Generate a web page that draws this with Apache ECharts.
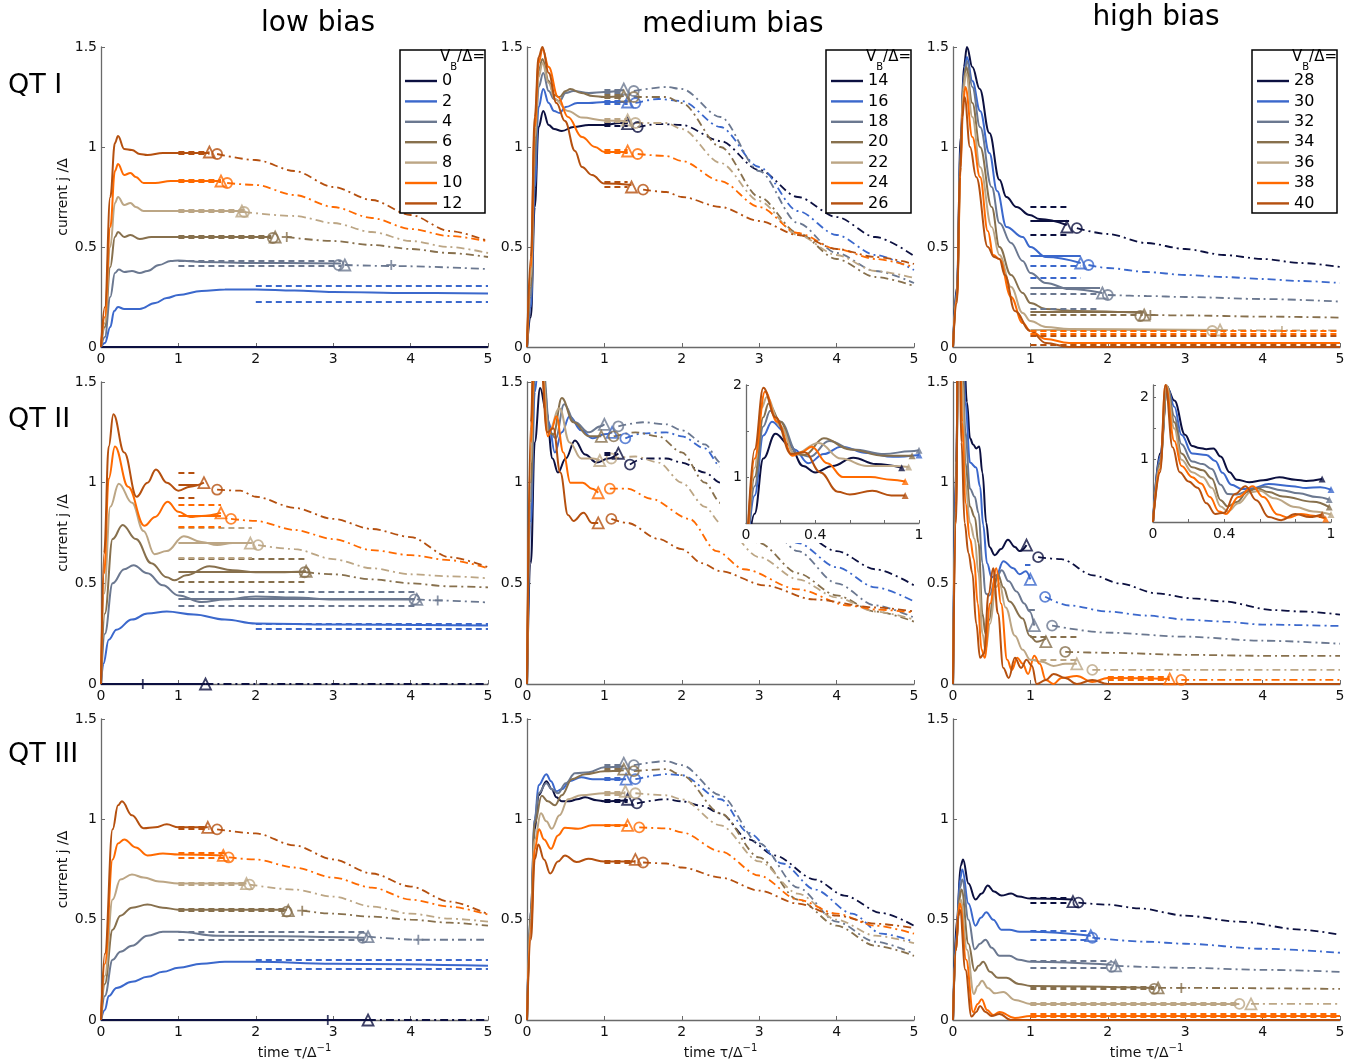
<!DOCTYPE html>
<html><head><meta charset="utf-8">
<script src="https://cdn.jsdelivr.net/npm/echarts@6.0.0/dist/echarts.min.js"></script>
<style>html,body{margin:0;padding:0;background:#fff}#c{width:1364px;height:1063px}</style>
</head><body><div id="c"></div>
<script>
// ---------- categories / names ----------
const VB_LOW=['0','2','4','6','8','10','12'];
const VB_MED=['14','16','18','20','22','24','26'];
const VB_HIGH=['28','30','32','34','36','38','40'];
const ROW_LABELS=['QT I','QT II','QT III'];
const COL_LABELS=['low bias','medium bias','high bias'];
const X_TICKS=[0,1,2,3,4,5];
const Y_TICKS=[0,0.5,1,1.5];
const NONE7=[null,null,null,null,null,null,null];

// ---------- QT I, low bias ----------
const curves_QT1_low=[
 [[0,0],[5,0]],
 [[0,0],[0.05,0.02],[0.12,0.1],[0.17,0.18],[0.22,0.2],[0.3,0.19],[0.5,0.19],[0.7,0.22],[0.85,0.245],[1,0.26],[1.3,0.28],[1.6,0.287],[2,0.288],[2.5,0.283],[3,0.275],[4,0.27],[5,0.267]],
 [[0,0],[0.05,0.05],[0.12,0.25],[0.18,0.37],[0.23,0.387],[0.3,0.375],[0.4,0.38],[0.5,0.37],[0.6,0.38],[0.75,0.41],[0.9,0.43],[1,0.432],[1.3,0.425],[2,0.42],[3.1,0.417]],
 [[0,0],[0.05,0.1],[0.12,0.4],[0.18,0.55],[0.22,0.575],[0.3,0.55],[0.38,0.56],[0.5,0.54],[0.65,0.55],[1,0.55],[2.2,0.55]],
 [[0,0],[0.05,0.12],[0.12,0.5],[0.18,0.72],[0.22,0.75],[0.3,0.71],[0.38,0.72],[0.45,0.7],[0.55,0.68],[0.8,0.68],[1.82,0.68]],
 [[0,0],[0.05,0.15],[0.12,0.6],[0.18,0.88],[0.22,0.915],[0.3,0.86],[0.38,0.87],[0.45,0.85],[0.55,0.82],[0.7,0.82],[0.9,0.83],[1.55,0.83]],
 [[0,0],[0.05,0.2],[0.12,0.75],[0.18,1.02],[0.22,1.055],[0.3,0.99],[0.4,0.985],[0.5,0.965],[0.6,0.96],[0.8,0.97],[1.4,0.97]]
];
const ext_QT1_low=[
 null,null,
 [[3.15,0.41],[3.75,0.405],[5,0.39]],
 [[2.4,0.55],[3,0.53],[3.5,0.51],[4,0.49],[4.5,0.47],[5,0.45]],
 [[1.85,0.675],[2.5,0.655],[3,0.62],[3.5,0.575],[4,0.53],[4.5,0.5],[5,0.47]],
 [[1.63,0.82],[2,0.81],[2.5,0.76],[3,0.7],[3.5,0.645],[4,0.59],[4.5,0.555],[5,0.528]],
 [[1.5,0.965],[2,0.935],[2.5,0.88],[3,0.8],[3.5,0.735],[4,0.66],[4.5,0.58],[5,0.53]]
];
const bands_QT1_low=[null,[2,5,0.305,0.228,null],[1,3.1,0.432,0.405,null],[1,2.2,0.556,0.544,null],[1,1.85,0.686,0.674,null],[1,1.55,0.836,0.824,null],[1,1.4,0.976,0.966,null]];
const tri_QT1_low=[null,null,[3.15,0.41],[2.25,0.55],[1.82,0.68],[1.55,0.83],[1.4,0.975]];
const circ_QT1_low=[null,null,[3.07,0.41],[2.22,0.545],[1.85,0.675],[1.63,0.82],[1.5,0.965]];
const plus_QT1_low=[null,null,[3.75,0.41],[2.4,0.55],null,null,null];

// ---------- QT I, medium bias ----------
const curves_QT1_med=[
 [[0,0],[0.05,0.15],[0.1,0.7],[0.15,1.1],[0.21,1.18],[0.28,1.11],[0.35,1.09],[0.45,1.08],[0.6,1.1],[0.8,1.11],[1,1.11],[1.2,1.12],[1.3,1.117]],
 [[0,0],[0.05,0.2],[0.1,0.8],[0.15,1.2],[0.21,1.29],[0.28,1.22],[0.35,1.18],[0.42,1.17],[0.5,1.2],[0.65,1.22],[0.8,1.22],[1,1.225],[1.3,1.225]],
 [[0,0],[0.05,0.25],[0.1,0.9],[0.15,1.3],[0.21,1.37],[0.28,1.28],[0.35,1.24],[0.42,1.23],[0.5,1.27],[0.6,1.28],[0.8,1.27],[1,1.275],[1.25,1.285]],
 [[0,0],[0.05,0.3],[0.1,1.0],[0.15,1.38],[0.2,1.44],[0.28,1.33],[0.35,1.26],[0.42,1.25],[0.5,1.28],[0.56,1.29],[0.7,1.27],[0.85,1.255],[1,1.25],[1.25,1.255]],
 [[0,0],[0.05,0.35],[0.1,1.05],[0.15,1.35],[0.2,1.42],[0.28,1.32],[0.36,1.24],[0.53,1.18],[0.71,1.147],[1,1.133],[1.3,1.13]],
 [[0,0],[0.05,0.4],[0.1,1.1],[0.15,1.42],[0.2,1.49],[0.28,1.4],[0.4,1.25],[0.53,1.15],[0.71,1.05],[0.88,1.0],[1,0.975],[1.3,0.975]],
 [[0,0],[0.05,0.45],[0.1,1.15],[0.15,1.45],[0.2,1.5],[0.28,1.37],[0.38,1.22],[0.49,1.13],[0.62,0.98],[0.71,0.9],[0.84,0.86],[1,0.817],[1.35,0.81]]
];
const ext_QT1_med=[
 [[1.43,1.1],[1.7,1.115],[2,1.11],[2.5,1.03],[3,0.885],[3.5,0.75],[4,0.65],[4.5,0.55],[5,0.455]],
 [[1.4,1.22],[1.7,1.24],[2,1.23],[2.5,1.1],[3,0.9],[3.5,0.68],[4,0.56],[4.5,0.46],[5,0.385]],
 [[1.38,1.28],[1.8,1.3],[2,1.29],[2.5,1.15],[3,0.88],[3.5,0.62],[4,0.47],[4.5,0.38],[5,0.32]],
 [[1.38,1.25],[1.8,1.25],[2,1.22],[2.5,1.0],[3,0.75],[3.5,0.57],[4,0.44],[4.5,0.35],[5,0.305]],
 [[1.4,1.12],[1.8,1.12],[2,1.09],[2.5,0.92],[3,0.73],[3.5,0.56],[4,0.46],[4.5,0.38],[5,0.345]],
 [[1.43,0.965],[1.8,0.955],[2,0.93],[2.5,0.83],[3,0.7],[3.5,0.57],[4,0.49],[4.5,0.44],[5,0.4]],
 [[1.5,0.787],[1.8,0.775],[2,0.75],[2.5,0.7],[3,0.63],[3.5,0.56],[4,0.49],[4.5,0.45],[5,0.415]]
];
const bands_QT1_med=[[1,1.3,1.12,1.105,null],[1,1.3,1.23,1.215,null],[1,1.25,1.285,1.27,null],[1,1.25,1.26,1.245,null],[1,1.3,1.14,1.125,null],[1,1.3,0.985,0.97,null],[1,1.3,0.825,0.8,null]];
const tri_QT1_med=[[1.3,1.117],[1.3,1.225],[1.25,1.29],[1.25,1.255],[1.3,1.135],[1.3,0.98],[1.35,0.8]];
const circ_QT1_med=[[1.43,1.1],[1.4,1.22],[1.38,1.28],[1.38,1.25],[1.4,1.12],[1.43,0.965],[1.5,0.787]];

// ---------- QT I, high bias ----------
const curves_QT1_high=[
 [[0,0],[0.05,0.3],[0.1,1.05],[0.14,1.4],[0.18,1.5],[0.25,1.4],[0.345,1.29],[0.47,1.07],[0.6,0.836],[0.69,0.75],[0.82,0.7],[0.99,0.66],[1.12,0.64],[1.47,0.61]],
 [[0,0],[0.05,0.28],[0.1,1.0],[0.14,1.36],[0.18,1.45],[0.25,1.33],[0.35,1.18],[0.47,0.97],[0.57,0.78],[0.69,0.6],[0.9,0.55],[1,0.5],[1.2,0.45],[1.65,0.42]],
 [[0,0],[0.05,0.27],[0.1,0.98],[0.14,1.34],[0.18,1.43],[0.25,1.3],[0.35,1.1],[0.5,0.8],[0.6,0.62],[0.75,0.52],[0.9,0.43],[1,0.37],[1.2,0.32],[1.5,0.29],[1.93,0.27]],
 [[0,0],[0.05,0.26],[0.1,0.95],[0.13,1.3],[0.17,1.4],[0.25,1.22],[0.35,1.0],[0.5,0.7],[0.6,0.5],[0.75,0.36],[0.9,0.27],[1,0.22],[1.2,0.19],[1.6,0.18],[2.45,0.17]],
 [[0,0],[0.05,0.25],[0.1,0.92],[0.13,1.28],[0.17,1.37],[0.25,1.15],[0.35,0.9],[0.5,0.6],[0.6,0.46],[0.75,0.3],[0.9,0.17],[1,0.13],[1.2,0.1],[1.5,0.09],[3.45,0.085]],
 [[0,0],[0.05,0.24],[0.1,0.9],[0.13,1.22],[0.16,1.3],[0.25,1.05],[0.35,0.85],[0.45,0.58],[0.52,0.46],[0.6,0.44],[0.75,0.25],[0.9,0.12],[1,0.08],[1.2,0.04],[1.5,0.02],[2,0.02],[5,0.02]],
 [[0,0],[0.05,0.22],[0.09,0.85],[0.12,1.15],[0.15,1.25],[0.22,1.0],[0.3,0.85],[0.45,0.5],[0.53,0.45],[0.6,0.44],[0.67,0.36],[0.8,0.18],[1,0.08],[1.2,0.02],[1.5,0.0],[5,0.0]]
];
const ext_QT1_high=[
 [[1.6,0.594],[2,0.565],[2.5,0.52],[3,0.49],[3.5,0.46],[4,0.44],[4.5,0.42],[5,0.4]],
 [[1.75,0.41],[2,0.395],[2.5,0.375],[3,0.36],[3.5,0.35],[4,0.34],[4.5,0.33],[5,0.32]],
 [[2,0.26],[2.5,0.255],[3,0.25],[4,0.24],[5,0.227]],
 [[2.55,0.16],[3,0.158],[4,0.152],[5,0.147]],
 [[3.45,0.085],[4.25,0.083],[5,0.083]],
 null,null
];
const bands_QT1_high=[[1,1.5,0.70,0.563,0.63],[1,1.65,0.406,0.348,0.455],[1,1.9,0.264,0.192,0.298],[1,2.45,0.159,0.159,0.176],[1,3.4,0.08,0.013,0.087],[1,5,0.083,0.065,null],[1,5,0.058,0.013,null]];
const tri_QT1_high=[[1.47,0.6],[1.65,0.42],[1.93,0.27],[2.47,0.16],[3.45,0.085],null,null];
const circ_QT1_high=[[1.6,0.594],[1.75,0.41],[2,0.26],[2.42,0.155],[3.35,0.08],null,null];
const plus_QT1_high=[null,null,null,[2.55,0.16],[4.25,0.08],null,null];

// ---------- QT II, low bias ----------
const curves_QT2_low=[
 [[0,0],[1.35,0]],
 [[0,0],[0.03,0.1],[0.1,0.22],[0.2,0.27],[0.4,0.32],[0.6,0.35],[0.85,0.36],[1.2,0.345],[1.6,0.32],[2,0.3],[3,0.295],[5,0.29]],
 [[0,0],[0.05,0.25],[0.15,0.5],[0.3,0.57],[0.42,0.59],[0.6,0.55],[0.8,0.49],[1,0.44],[1.3,0.407],[1.6,0.42],[2,0.435],[2.5,0.43],[3,0.42],[4.05,0.42]],
 [[0,0],[0.05,0.35],[0.15,0.72],[0.28,0.79],[0.45,0.72],[0.65,0.6],[0.85,0.53],[0.95,0.515],[1.1,0.54],[1.4,0.585],[1.7,0.565],[2,0.555],[2.3,0.555],[2.65,0.56]],
 [[0,0],[0.04,0.45],[0.12,0.88],[0.23,0.995],[0.4,0.9],[0.55,0.76],[0.69,0.645],[0.85,0.66],[1.07,0.734],[1.3,0.705],[1.5,0.69],[1.7,0.7],[1.93,0.7]],
 [[0,0],[0.04,0.55],[0.1,1.02],[0.18,1.18],[0.35,0.98],[0.56,0.786],[0.7,0.83],[0.86,0.905],[1,0.855],[1.15,0.83],[1.3,0.835],[1.55,0.85]],
 [[0,0],[0.04,0.65],[0.1,1.18],[0.16,1.34],[0.3,1.15],[0.46,0.93],[0.6,1.0],[0.71,1.066],[0.85,1.0],[1,0.96],[1.15,0.98],[1.33,1.0]]
];
const ext_QT2_low=[
 [[1.35,0],[5,0]],
 null,
 [[4.08,0.42],[4.35,0.415],[5,0.405]],
 [[2.65,0.555],[3,0.545],[3.5,0.52],[4,0.5],[4.5,0.485],[5,0.48]],
 [[2.03,0.69],[2.5,0.67],[3,0.62],[3.5,0.575],[4,0.545],[4.5,0.535],[5,0.525]],
 [[1.68,0.82],[2,0.81],[2.5,0.765],[3,0.72],[3.5,0.665],[4,0.64],[4.5,0.615],[5,0.575]],
 [[1.5,0.965],[1.8,0.96],[2,0.93],[2.5,0.875],[3,0.82],[3.5,0.77],[4,0.73],[4.5,0.63],[5,0.58]]
];
const bands_QT2_low=[null,[2,5,0.30,0.275,null],[1,4.05,0.46,0.39,0.424],[1,2.65,0.62,0.507,0.56],[1,1.95,0.776,0.625,0.70],[1,1.55,0.89,0.78,0.835],[1,1.25,1.047,0.925,0.99]];
const tri_QT2_low=[[1.35,0],null,[4.08,0.42],[2.65,0.56],[1.93,0.7],[1.55,0.85],[1.33,1.0]];
const circ_QT2_low=[null,null,[4.05,0.42],[2.63,0.555],[2.03,0.69],[1.68,0.82],[1.5,0.965]];
const plus_QT2_low=[[0.54,0],null,[4.35,0.415],null,null,null,null];

// ---------- QT II, medium bias ----------
const curves_QT2_med=[
 [[0,0],[0.05,0.6],[0.1,1.2],[0.17,1.47],[0.25,1.35],[0.33,1.12],[0.4,1.05],[0.5,1.12],[0.62,1.21],[0.75,1.14],[0.9,1.1],[1.05,1.12],[1.18,1.145]],
 [[0,0],[0.05,0.8],[0.1,1.45],[0.15,1.6],[0.22,1.5],[0.28,1.3],[0.36,1.15],[0.45,1.25],[0.55,1.33],[0.7,1.26],[0.85,1.22],[1,1.24],[1.1,1.25]],
 [[0,0],[0.05,0.9],[0.1,1.55],[0.14,1.72],[0.2,1.6],[0.3,1.25],[0.37,1.22],[0.48,1.39],[0.62,1.3],[0.8,1.25],[0.95,1.28],[1.0,1.29]],
 [[0,0],[0.05,1.0],[0.1,1.65],[0.13,1.8],[0.2,1.6],[0.28,1.25],[0.34,1.24],[0.45,1.42],[0.6,1.3],[0.8,1.23],[0.96,1.23]],
 [[0,0],[0.05,1.1],[0.09,1.75],[0.12,1.87],[0.2,1.55],[0.28,1.25],[0.42,1.37],[0.55,1.2],[0.7,1.12],[0.85,1.12],[0.94,1.11]],
 [[0,0],[0.05,1.2],[0.11,1.93],[0.18,1.6],[0.27,1.23],[0.32,1.27],[0.38,1.33],[0.47,1.15],[0.56,1.0],[0.72,1.0],[0.84,0.97],[0.92,0.95]],
 [[0,0],[0.05,1.3],[0.1,1.97],[0.17,1.65],[0.26,1.25],[0.34,1.27],[0.43,1.05],[0.53,0.84],[0.6,0.81],[0.73,0.85],[0.84,0.8],[0.92,0.8]]
];
const ext_QT2_med=[
 [[1.33,1.09],[1.5,1.12],[1.8,1.12],[2,1.1],[2.3,1.05],[2.5,1.0],[3,0.87],[3.5,0.76],[4,0.66],[4.5,0.57],[5,0.49]],
 [[1.27,1.22],[1.5,1.245],[1.8,1.25],[2,1.23],[2.3,1.17],[2.5,1.08],[3,0.88],[3.5,0.7],[4,0.58],[4.5,0.48],[5,0.41]],
 [[1.18,1.28],[1.5,1.3],[1.8,1.29],[2,1.26],[2.3,1.19],[2.5,1.1],[3,0.85],[3.5,0.66],[4,0.5],[4.5,0.39],[5,0.33]],
 [[1.12,1.23],[1.4,1.25],[1.7,1.23],[2,1.15],[2.3,1.0],[2.5,0.9],[3,0.7],[3.5,0.55],[4,0.44],[4.5,0.36],[5,0.31]],
 [[1.09,1.12],[1.4,1.13],[1.7,1.1],[2,1.0],[2.3,0.88],[2.5,0.8],[3,0.63],[3.5,0.52],[4,0.43],[4.5,0.36],[5,0.32]],
 [[1.07,0.97],[1.3,0.97],[1.6,0.92],[2.1,0.82],[2.45,0.66],[2.8,0.57],[3.5,0.47],[4.15,0.39],[4.5,0.37],[5,0.355]],
 [[1.09,0.82],[1.3,0.8],[1.7,0.72],[2,0.67],[2.26,0.6],[2.5,0.56],[3.07,0.49],[3.7,0.42],[4.5,0.38],[5,0.36]]
];
const bands_QT2_med=[[1.0,1.15,1.15,1.14,null],null,null,null,null,null,null];
const tri_QT2_med=[[1.18,1.146],[1.1,1.25],[1.0,1.29],[0.96,1.23],[0.94,1.11],[0.92,0.95],[0.92,0.8]];
const circ_QT2_med=[[1.33,1.09],[1.27,1.22],[1.18,1.28],[1.12,1.23],[1.09,1.12],[1.07,0.97],[1.09,0.82]];

// ---------- QT II, high bias ----------
const curves_QT2_high=[
 [[0,0],[0.04,1.1],[0.08,2.15],[0.12,1.95],[0.18,1.4],[0.22,1.22],[0.26,1.19],[0.3,1.17],[0.34,1.18],[0.38,1.05],[0.43,0.8],[0.47,0.68],[0.54,0.64],[0.62,0.67],[0.71,0.717],[0.8,0.68],[0.86,0.66],[0.95,0.69]],
 [[0,0],[0.04,1.05],[0.08,2.17],[0.12,1.85],[0.16,1.4],[0.22,1.1],[0.3,1.075],[0.35,0.98],[0.39,0.79],[0.44,0.6],[0.5,0.53],[0.56,0.54],[0.65,0.61],[0.78,0.575],[0.86,0.545],[0.94,0.56],[1.0,0.52]],
 [[0,0],[0.04,1.0],[0.08,2.18],[0.12,1.7],[0.16,1.25],[0.22,0.97],[0.28,0.93],[0.33,0.85],[0.38,0.6],[0.42,0.45],[0.47,0.44],[0.55,0.52],[0.63,0.565],[0.72,0.51],[0.82,0.46],[0.92,0.4],[0.99,0.36],[1.05,0.29]],
 [[0,0],[0.04,0.95],[0.08,2.18],[0.12,1.6],[0.16,1.1],[0.22,0.88],[0.28,0.83],[0.33,0.7],[0.38,0.35],[0.42,0.25],[0.47,0.32],[0.53,0.48],[0.58,0.545],[0.65,0.48],[0.73,0.41],[0.9,0.325],[0.99,0.24],[1.08,0.21],[1.2,0.225]],
 [[0,0],[0.04,0.9],[0.075,2.2],[0.12,1.5],[0.16,1.0],[0.22,0.8],[0.28,0.72],[0.33,0.55],[0.38,0.25],[0.42,0.17],[0.48,0.3],[0.55,0.48],[0.6,0.5],[0.68,0.38],[0.8,0.24],[0.9,0.17],[1,0.12],[1.15,0.11],[1.3,0.09],[1.45,0.1],[1.6,0.1]],
 [[0,0],[0.04,0.85],[0.07,2.2],[0.12,1.3],[0.16,0.9],[0.22,0.72],[0.27,0.62],[0.32,0.4],[0.37,0.17],[0.41,0.13],[0.48,0.4],[0.56,0.575],[0.62,0.4],[0.7,0.12],[0.76,0.07],[0.83,0.13],[0.9,0.1],[0.97,0.05],[1.05,0.14],[1.12,0.1],[1.2,0.02],[1.3,0.0],[1.4,0.03],[1.6,0.04],[1.8,0.01],[2,0.03],[2.8,0.025]],
 [[0,0],[0.04,0.8],[0.07,2.2],[0.11,1.2],[0.15,0.8],[0.2,0.65],[0.25,0.55],[0.3,0.3],[0.35,0.13],[0.4,0.15],[0.46,0.45],[0.52,0.575],[0.58,0.35],[0.65,0.08],[0.72,0.03],[0.8,0.13],[0.88,0.08],[0.95,0.12],[1.02,0.09],[1.08,0.0],[1.2,0.02],[1.3,0.05],[1.45,0.03],[1.6,0.0],[1.8,0.02],[2,0.0],[5,0.0]]
];
const ext_QT2_high=[
 [[1.1,0.63],[1.4,0.62],[1.81,0.54],[2.15,0.5],[2.63,0.45],[3.1,0.425],[3.49,0.41],[4.14,0.367],[4.5,0.36],[5,0.345]],
 [[1.19,0.433],[1.5,0.39],[2,0.36],[2.5,0.34],[3,0.32],[3.5,0.31],[4,0.295],[5,0.288]],
 [[1.28,0.29],[2,0.255],[3,0.235],[4,0.215],[5,0.2]],
 [[1.45,0.16],[2,0.155],[3,0.145],[4,0.14],[5,0.14]],
 [[1.8,0.07],[3,0.07],[5,0.07]],
 [[2.95,0.02],[5,0.02]],
 null
];
const bands_QT2_high=[null,[0.93,1.0,0.59,0.59,null],[0.98,1.08,0.367,0.367,null],[1,1.6,0.235,0.235,null],[1,1.6,0.12,0.12,null],[2,2.8,0.035,0.02,null],null];
const tri_QT2_high=[[0.95,0.69],[1.0,0.52],[1.05,0.29],[1.2,0.21],[1.6,0.1],[2.8,0.025],null];
const circ_QT2_high=[[1.1,0.63],[1.19,0.433],[1.28,0.29],[1.45,0.16],[1.8,0.07],[2.95,0.02],null];

// ---------- QT III, low bias ----------
const curves_QT3_low=[
 [[0,0],[3.45,0]],
 [[0,0],[0.05,0.05],[0.1,0.12],[0.2,0.16],[0.4,0.19],[0.6,0.215],[0.8,0.24],[1,0.26],[1.3,0.28],[1.6,0.29],[2,0.29],[3,0.28],[5,0.27]],
 [[0,0],[0.05,0.12],[0.15,0.3],[0.25,0.34],[0.4,0.37],[0.6,0.42],[0.8,0.44],[1,0.44],[1.5,0.42],[3.4,0.41]],
 [[0,0],[0.05,0.18],[0.15,0.45],[0.25,0.52],[0.4,0.56],[0.6,0.575],[0.8,0.56],[1,0.55],[2.4,0.55]],
 [[0,0],[0.05,0.22],[0.15,0.6],[0.25,0.7],[0.4,0.725],[0.55,0.71],[0.75,0.69],[1,0.68],[1.88,0.68]],
 [[0,0],[0.05,0.28],[0.15,0.8],[0.22,0.88],[0.3,0.9],[0.45,0.86],[0.6,0.82],[0.8,0.83],[1,0.825],[1.58,0.82]],
 [[0,0],[0.05,0.33],[0.15,0.95],[0.22,1.07],[0.27,1.09],[0.4,1.02],[0.55,0.955],[0.7,0.96],[0.85,0.975],[1,0.96],[1.38,0.96]]
];
const ext_QT3_low=[
 [[3.45,0],[5,0]],
 null,
 [[3.45,0.415],[4.1,0.4],[5,0.4]],
 [[2.6,0.545],[3,0.53],[3.5,0.515],[4,0.5],[4.5,0.485],[5,0.47]],
 [[1.92,0.675],[2.5,0.65],[3,0.615],[3.5,0.565],[4,0.53],[4.5,0.505],[5,0.49]],
 [[1.65,0.81],[2,0.8],[2.5,0.76],[3,0.71],[3.5,0.66],[4,0.6],[4.5,0.565],[5,0.525]],
 [[1.5,0.95],[2,0.93],[2.5,0.87],[3,0.8],[3.5,0.73],[4,0.665],[4.5,0.59],[5,0.527]]
];
const bands_QT3_low=[null,[2,5,0.30,0.255,null],[1,3.4,0.44,0.40,null],[1,2.4,0.556,0.544,null],[1,1.9,0.686,0.672,null],[1,1.6,0.835,0.81,null],[1,1.4,0.963,0.955,null]];
const tri_QT3_low=[[3.45,0],null,[3.45,0.415],[2.42,0.545],[1.88,0.68],[1.58,0.82],[1.38,0.96]];
const circ_QT3_low=[null,null,[3.38,0.41],[2.4,0.54],[1.92,0.675],[1.65,0.81],[1.5,0.95]];
const plus_QT3_low=[[2.93,0],null,[4.1,0.4],[2.6,0.545],null,null,null];

// ---------- QT III, medium bias ----------
const curves_QT3_med=[
 [[0,0],[0.05,0.5],[0.1,0.95],[0.15,1.12],[0.25,1.19],[0.32,1.15],[0.38,1.11],[0.45,1.09],[0.55,1.09],[0.65,1.1],[0.75,1.11],[0.9,1.095],[1,1.09],[1.3,1.095]],
 [[0,0],[0.05,0.55],[0.1,1.0],[0.15,1.17],[0.25,1.225],[0.31,1.19],[0.38,1.14],[0.45,1.15],[0.55,1.19],[0.7,1.21],[0.85,1.2],[1,1.2],[1.28,1.2]],
 [[0,0],[0.05,0.55],[0.1,1.0],[0.15,1.13],[0.25,1.18],[0.32,1.15],[0.4,1.13],[0.5,1.18],[0.62,1.23],[0.8,1.235],[1,1.26],[1.25,1.265]],
 [[0,0],[0.05,0.55],[0.1,0.98],[0.19,1.117],[0.27,1.09],[0.36,1.07],[0.45,1.12],[0.58,1.2],[0.75,1.225],[1,1.24],[1.25,1.245]],
 [[0,0],[0.05,0.5],[0.1,0.9],[0.18,1.03],[0.25,0.99],[0.32,0.953],[0.42,1.02],[0.53,1.1],[0.7,1.12],[1,1.13],[1.27,1.13]],
 [[0,0],[0.05,0.45],[0.1,0.85],[0.155,0.95],[0.22,0.9],[0.31,0.853],[0.4,0.92],[0.49,0.958],[0.66,0.953],[0.84,0.97],[1,0.97],[1.3,0.97]],
 [[0,0],[0.05,0.4],[0.1,0.8],[0.146,0.875],[0.22,0.8],[0.3,0.73],[0.4,0.79],[0.49,0.82],[0.64,0.787],[0.79,0.803],[1,0.79],[1.4,0.79]]
];
const ext_QT3_med=[
 [[1.42,1.08],[1.8,1.1],[2,1.09],[2.26,1.067],[2.5,1.03],[2.86,0.9],[3.2,0.82],[3.72,0.7],[4.1,0.62],[4.58,0.533],[5,0.47]],
 [[1.4,1.2],[1.8,1.225],[2,1.22],[2.5,1.1],[2.86,0.933],[3.3,0.78],[3.72,0.65],[4.2,0.53],[4.58,0.43],[5,0.39]],
 [[1.38,1.27],[1.8,1.29],[2,1.27],[2.5,1.12],[3,0.88],[3.5,0.66],[4,0.49],[4.5,0.39],[5,0.33]],
 [[1.38,1.24],[1.8,1.25],[2,1.22],[2.5,1.03],[3,0.81],[3.5,0.6],[4,0.47],[4.5,0.37],[5,0.32]],
 [[1.4,1.13],[1.8,1.12],[2,1.1],[2.5,0.97],[3,0.79],[3.5,0.63],[4,0.5],[4.5,0.42],[5,0.383]],
 [[1.45,0.96],[1.8,0.955],[2,0.935],[2.5,0.84],[3,0.72],[3.5,0.6],[4,0.53],[4.5,0.47],[5,0.43]],
 [[1.5,0.785],[1.8,0.78],[2,0.76],[2.5,0.71],[3,0.645],[3.5,0.58],[4,0.52],[4.5,0.48],[5,0.458]]
];
const bands_QT3_med=[[1,1.3,1.1,1.09,null],[1,1.25,1.205,1.195,null],[1,1.25,1.27,1.26,null],[1,1.25,1.25,1.24,null],[1,1.27,1.135,1.125,null],[1,1.3,0.975,0.968,null],[1,1.4,0.795,0.785,null]];
const tri_QT3_med=[[1.3,1.1],[1.28,1.2],[1.25,1.28],[1.25,1.25],[1.27,1.14],[1.3,0.97],[1.4,0.8]];
const circ_QT3_med=[[1.42,1.08],[1.4,1.2],[1.38,1.27],[1.38,1.24],[1.4,1.13],[1.45,0.96],[1.5,0.785]];

// ---------- QT III, high bias ----------
const curves_QT3_high=[
 [[0,0],[0.05,0.5],[0.1,0.77],[0.13,0.8],[0.2,0.68],[0.29,0.6],[0.37,0.63],[0.45,0.67],[0.53,0.64],[0.625,0.62],[0.75,0.63],[0.85,0.615],[1,0.605],[1.55,0.6]],
 [[0,0],[0.05,0.45],[0.09,0.7],[0.12,0.75],[0.2,0.58],[0.29,0.47],[0.36,0.51],[0.43,0.537],[0.52,0.5],[0.625,0.45],[0.73,0.45],[0.86,0.44],[1,0.44],[1.78,0.42]],
 [[0,0],[0.05,0.42],[0.09,0.66],[0.12,0.7],[0.2,0.5],[0.28,0.352],[0.35,0.38],[0.42,0.4],[0.5,0.36],[0.6,0.32],[0.73,0.32],[0.85,0.3],[1,0.29],[2.05,0.275]],
 [[0,0],[0.05,0.4],[0.08,0.6],[0.11,0.65],[0.2,0.38],[0.28,0.244],[0.33,0.27],[0.39,0.29],[0.48,0.24],[0.58,0.21],[0.69,0.21],[0.85,0.18],[1,0.17],[2.6,0.16]],
 [[0,0],[0.04,0.35],[0.07,0.55],[0.1,0.6],[0.18,0.35],[0.27,0.13],[0.32,0.17],[0.375,0.196],[0.45,0.16],[0.54,0.133],[0.65,0.14],[0.8,0.1],[1,0.08],[3.7,0.08]],
 [[0,0],[0.04,0.35],[0.07,0.54],[0.09,0.58],[0.17,0.3],[0.26,0.04],[0.32,0.08],[0.37,0.103],[0.44,0.05],[0.52,0.025],[0.6,0.04],[0.8,0.01],[1,0.02],[5,0.02]],
 [[0,0],[0.04,0.35],[0.07,0.52],[0.09,0.55],[0.16,0.25],[0.24,0.017],[0.3,0.04],[0.35,0.07],[0.42,0.04],[0.5,0.02],[0.6,0.03],[0.75,0.0],[1,0.0],[5,0.0]]
];
const ext_QT3_high=[
 [[1.62,0.585],[2,0.575],[2.41,0.556],[3,0.52],[3.7,0.49],[4.5,0.45],[5,0.424]],
 [[1.8,0.41],[2.5,0.39],[3,0.38],[4,0.355],[5,0.335]],
 [[2.1,0.27],[3,0.26],[4,0.25],[5,0.24]],
 [[2.65,0.16],[2.95,0.16],[5,0.155]],
 [[3.85,0.08],[5,0.08]],
 null,null
];
const bands_QT3_high=[[1,1.5,0.61,0.585,null],[1,1.75,0.445,0.40,null],[1,2.05,0.295,0.26,null],[1,2.6,0.165,0.155,null],[1,3.7,0.085,0.075,null],[1,5,0.03,0.015,null],null];
const tri_QT3_high=[[1.55,0.59],[1.78,0.42],[2.1,0.27],[2.65,0.16],[3.85,0.08],null,null];
const circ_QT3_high=[[1.62,0.585],[1.8,0.41],[2.05,0.265],[2.6,0.155],[3.7,0.08],null,null];
const plus_QT3_high=[null,null,null,[2.95,0.16],null,null,null];

// ---------- styling / layout ----------
const FONT='DejaVu Sans';
const COLORS=['#0c1040','#3b68cc','#6b7890','#87704d','#bca685','#ff6a00','#b5500f'];
const GRID_LEFT=[101,527,953], GRID_TOP=[47,382,719], GRID_W=387, GRID_H=[300,302,301];
const PLUS='path://M0,5L10,5M5,0L5,10';
const LEGEND_ICON='path://M0,0L32,0L32,2.4L0,2.4Z';

const PANELS=[
 [VB_LOW,curves_QT1_low,ext_QT1_low,bands_QT1_low,tri_QT1_low,circ_QT1_low,plus_QT1_low],
 [VB_MED,curves_QT1_med,ext_QT1_med,bands_QT1_med,tri_QT1_med,circ_QT1_med,NONE7],
 [VB_HIGH,curves_QT1_high,ext_QT1_high,bands_QT1_high,tri_QT1_high,circ_QT1_high,plus_QT1_high],
 [VB_LOW,curves_QT2_low,ext_QT2_low,bands_QT2_low,tri_QT2_low,circ_QT2_low,plus_QT2_low],
 [VB_MED,curves_QT2_med,ext_QT2_med,bands_QT2_med,tri_QT2_med,circ_QT2_med,NONE7],
 [VB_HIGH,curves_QT2_high,ext_QT2_high,bands_QT2_high,tri_QT2_high,circ_QT2_high,NONE7],
 [VB_LOW,curves_QT3_low,ext_QT3_low,bands_QT3_low,tri_QT3_low,circ_QT3_low,plus_QT3_low],
 [VB_MED,curves_QT3_med,ext_QT3_med,bands_QT3_med,tri_QT3_med,circ_QT3_med,NONE7],
 [VB_HIGH,curves_QT3_high,ext_QT3_high,bands_QT3_high,tri_QT3_high,circ_QT3_high,plus_QT3_high]
];

function axisCommon(){
  return {
    axisLine:{show:true,onZero:false,lineStyle:{color:'#6a6a6a',width:1.3}},
    axisTick:{show:true,inside:true,length:4,lineStyle:{color:'#6a6a6a'}},
    axisLabel:{fontSize:14,color:'#111',fontFamily:FONT,margin:5},
    splitLine:{show:false}
  };
}

const grids=[],xAxes=[],yAxes=[],series=[];
for(let r=0;r<3;r++){
  for(let c=0;c<3;c++){
    const gi=r*3+c;
    grids.push({left:GRID_LEFT[c],top:GRID_TOP[r],width:GRID_W,height:GRID_H[r],outerBoundsMode:'none',containLabel:false});
    const xa=Object.assign(axisCommon(),{type:'value',gridIndex:gi,min:X_TICKS[0],max:X_TICKS[X_TICKS.length-1],interval:1});
    if(r===2){
      xa.name='time τ/Δ{sup|−1}';
      xa.nameLocation='middle';
      xa.nameGap=23;
      xa.nameTextStyle={fontSize:14,fontFamily:FONT,color:'#111',lineHeight:20,rich:{sup:{fontSize:10,fontFamily:FONT,color:'#111',verticalAlign:'top',lineHeight:12}}};
    }
    xAxes.push(xa);
    const ya=Object.assign(axisCommon(),{type:'value',gridIndex:gi,min:Y_TICKS[0],max:Y_TICKS[Y_TICKS.length-1],interval:0.5});
    ya.axisLabel.margin=4;
    if(c===0){
      ya.name='current j /Δ';
      ya.nameLocation='middle';
      ya.nameGap=31;
      ya.nameTextStyle={fontSize:14,fontFamily:FONT,color:'#111'};
    }
    yAxes.push(ya);
  }
}

function addPanel(gi,p){
  const [names,curves,ext,bands,tri,circ,plus]=p;
  for(let k=0;k<7;k++){
    const col=COLORS[k];
    const s={type:'line',name:names[k],xAxisIndex:gi,yAxisIndex:gi,data:curves[k],symbol:'none',showSymbol:false,
      smooth:0.4,smoothMonotone:'x',lineStyle:{color:col,width:2},itemStyle:{color:col},z:3,silent:true};
    const b=bands[k];
    if(b){
      const md=[[{coord:[b[0],b[2]]},{coord:[b[1],b[2]]}]];
      if(b[3]!==b[2]) md.push([{coord:[b[0],b[3]]},{coord:[b[1],b[3]]}]);
      if(b[4]!=null) md.push([{coord:[b[0],b[4]],lineStyle:{type:'solid',color:col,width:2}},{coord:[b[1],b[4]],lineStyle:{type:'solid',color:col,width:2}}]);
      s.markLine={silent:true,symbol:['none','none'],label:{show:false},animation:false,
        lineStyle:{color:col,width:2,type:[6,4]},emphasis:{disabled:true},data:md};
    }
    series.push(s);
    if(ext[k]){
      series.push({type:'line',xAxisIndex:gi,yAxisIndex:gi,data:ext[k],symbol:'none',showSymbol:false,smooth:0.3,smoothMonotone:'x',
        lineStyle:{color:col,width:1.8,type:[8,4,2,4]},z:2,silent:true});
    }
    const pts=[];
    if(tri[k]) pts.push({value:tri[k],symbol:'triangle',symbolSize:11});
    if(circ[k]) pts.push({value:circ[k],symbol:'circle',symbolSize:10});
    if(plus[k]) pts.push({value:plus[k],symbol:PLUS,symbolSize:10});
    if(pts.length){
      series.push({type:'scatter',xAxisIndex:gi,yAxisIndex:gi,data:pts,
        itemStyle:{color:'rgba(255,255,255,0)',borderColor:col,borderWidth:1.8},z:4,silent:true});
    }
  }
}
PANELS.forEach((p,i)=>addPanel(i,p));

// ---------- insets (same data, first time unit) ----------
const INSETS=[
  {grid:{left:746,top:385,width:173,height:138},ymin:0.5,ymax:2,curves:curves_QT2_med},
  {grid:{left:1153,top:385,width:178,height:137},ymin:0,ymax:2.2,curves:curves_QT2_high}
];
INSETS.forEach((ins,j)=>{
  const gi=9+j;
  grids.push(Object.assign({outerBoundsMode:'none',containLabel:false,z:11},ins.grid));
  const xa=Object.assign(axisCommon(),{type:'value',gridIndex:gi,min:0,max:1,interval:0.2,z:11});
  xa.axisLabel.formatter=v=>(Math.abs(v)<1e-6||Math.abs(v-0.4)<1e-6||Math.abs(v-1)<1e-6)?String(+v.toFixed(1)):'';
  xa.axisTick.length=3;
  xAxes.push(xa);
  const ya=Object.assign(axisCommon(),{type:'value',gridIndex:gi,min:ins.ymin,max:ins.ymax,interval:0.5,z:11});
  ya.axisLabel.formatter=v=>(Math.abs(v-1)<1e-6||Math.abs(v-2)<1e-6)?String(Math.round(v)):'';
  ya.axisLabel.margin=4;
  ya.axisTick.length=3;
  yAxes.push(ya);
  ins.curves.forEach((cv,k)=>{
    const d=cv.filter(pt=>pt[0]<=1.0001);
    series.push({type:'line',xAxisIndex:gi,yAxisIndex:gi,data:d,symbol:'none',showSymbol:false,smooth:0.4,smoothMonotone:'x',
      lineStyle:{color:COLORS[k],width:2},z:12,silent:true});
    series.push({type:'scatter',xAxisIndex:gi,yAxisIndex:gi,data:[d[d.length-1]],symbol:'triangle',symbolSize:7,
      itemStyle:{color:COLORS[k]},z:13,silent:true});
  });
});

// ---------- legends ----------
const LEGEND_X=[400,826,1252];
const legends=[VB_LOW,VB_MED,VB_HIGH].map((names,c)=>({
  data:names.map(n=>({name:n,icon:LEGEND_ICON})),left:LEGEND_X[c]+5,top:73,orient:'vertical',itemWidth:32,itemHeight:14,itemGap:4.4,
  padding:0,selectedMode:false,z:12,icon:LEGEND_ICON,symbolKeepAspect:true,
  textStyle:{fontSize:16,fontFamily:FONT,color:'#000'}
}));

// ---------- decorations / texts ----------
const graphics=[];
graphics.push({type:'rect',shape:{x:720,y:377,width:204,height:166},style:{fill:'#fff'},z:10,silent:true});
graphics.push({type:'rect',shape:{x:1128,y:377,width:222,height:166},style:{fill:'#fff'},z:10,silent:true});
LEGEND_X.forEach(x=>{
  graphics.push({type:'rect',shape:{x:x,y:50,width:85,height:163},style:{fill:'#fff',stroke:'#000',lineWidth:1.5},z:10,silent:true});
  graphics.push({type:'text',x:x+40,y:50,z:12,silent:true,style:{text:'{v|V}{b|B}{v|/Δ=}',fill:'#000',fontFamily:FONT,fontSize:15,
    rich:{v:{fontSize:15,fontFamily:FONT,fill:'#000',color:'#000',lineHeight:22,verticalAlign:'top'},b:{fontSize:10,fontFamily:FONT,fill:'#000',color:'#000',lineHeight:22,verticalAlign:'bottom'}}}});
});
const COL_CENTER=[[318,24],[733,25],[1156,18]];
COL_LABELS.forEach((t,i)=>graphics.push({type:'text',x:COL_CENTER[i][0],y:COL_CENTER[i][1],z:12,silent:true,
  style:{text:t,fontSize:28,fontFamily:FONT,fill:'#000',align:'center',verticalAlign:'middle',textAlign:'center',textVerticalAlign:'middle'}}));
const ROW_Y=[86,420,755];
ROW_LABELS.forEach((t,i)=>graphics.push({type:'text',x:8,y:ROW_Y[i],z:12,silent:true,
  style:{text:t,fontSize:27,fontFamily:FONT,fill:'#000',align:'left',verticalAlign:'middle',textAlign:'left',textVerticalAlign:'middle'}}));

const chart=echarts.init(document.getElementById('c'),null,{renderer:'canvas'});
chart.setOption({
  animation:false,
  backgroundColor:'#fff',
  textStyle:{fontFamily:FONT},
  grid:grids,xAxis:xAxes,yAxis:yAxes,
  legend:legends,
  graphic:{elements:graphics},
  series:series
});
</script></body></html>
